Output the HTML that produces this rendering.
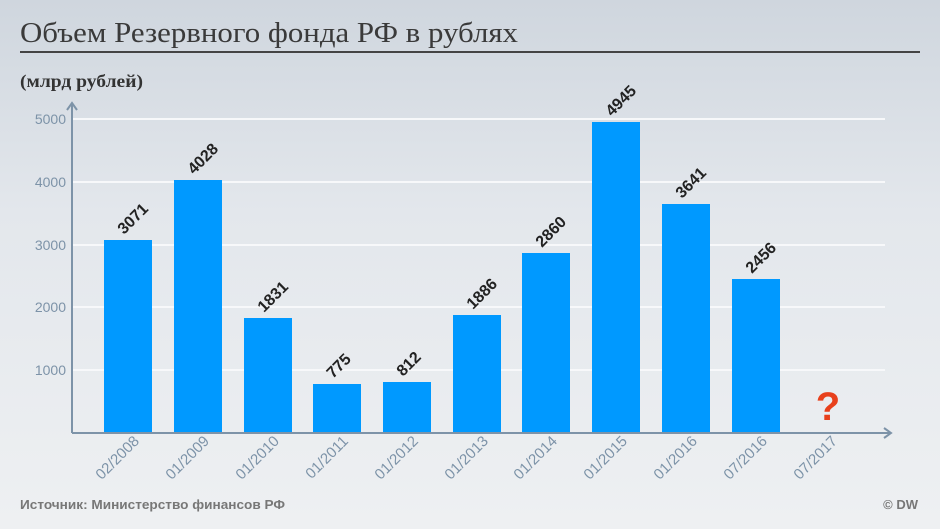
<!DOCTYPE html>
<html><head><meta charset="utf-8"><style>
html,body{margin:0;padding:0}
body{width:940px;height:529px;overflow:hidden;background:linear-gradient(180deg,#cfd6de 0%,#e3e7ec 40%,#eef0f2 100%);}
</style></head><body>
<svg width="940" height="529" xmlns="http://www.w3.org/2000/svg" style="position:absolute;left:0;top:0">
<text x="20" y="42" font-family="'Liberation Serif','DejaVu Serif',serif" font-size="29" fill="#3a3a3a" textLength="498" lengthAdjust="spacingAndGlyphs">Объем Резервного фонда РФ в рублях</text>
<rect x="20" y="51" width="900" height="2" fill="#444"/>
<text x="20" y="87" font-family="'Liberation Serif',serif" font-size="18" font-weight="bold" fill="#333" textLength="123" lengthAdjust="spacingAndGlyphs">(млрд рублей)</text>
<g stroke="#f7f8fa" stroke-width="2">
<line x1="71" y1="119" x2="885" y2="119"/><line x1="71" y1="182" x2="885" y2="182"/><line x1="71" y1="245" x2="885" y2="245"/><line x1="71" y1="307" x2="885" y2="307"/><line x1="71" y1="370" x2="885" y2="370"/>
</g>
<g font-family="'Liberation Sans',sans-serif" font-size="14" fill="#7d93a8" text-anchor="end">
<text x="66" y="124">5000</text><text x="66" y="187">4000</text><text x="66" y="250">3000</text><text x="66" y="312">2000</text><text x="66" y="375">1000</text>
</g>
<g fill="#0099ff">
<rect x="104" y="240" width="48" height="193"/>
<rect x="174" y="180" width="48" height="253"/>
<rect x="244" y="318" width="48" height="115"/>
<rect x="313" y="384" width="48" height="49"/>
<rect x="383" y="382" width="48" height="51"/>
<rect x="453" y="315" width="48" height="118"/>
<rect x="522" y="253" width="48" height="180"/>
<rect x="592" y="122" width="48" height="311"/>
<rect x="662" y="204" width="48" height="229"/>
<rect x="732" y="279" width="48" height="154"/>
</g>
<g stroke="#7d93a8" stroke-width="2" fill="none">
<line x1="72" y1="104" x2="72" y2="433"/><polyline points="67,110 72,103 77,110"/>
<line x1="72" y1="433" x2="890" y2="433"/><polyline points="884,428 891,433 884,438"/>
</g>
<g font-family="'Liberation Sans',sans-serif" font-size="16" font-weight="bold" fill="#222">
<text transform="translate(124,235) rotate(-45)">3071</text>
<text transform="translate(194,175) rotate(-45)">4028</text>
<text transform="translate(264,313) rotate(-45)">1831</text>
<text transform="translate(333,379) rotate(-45)">775</text>
<text transform="translate(403,377) rotate(-45)">812</text>
<text transform="translate(473,310) rotate(-45)">1886</text>
<text transform="translate(542,248) rotate(-45)">2860</text>
<text transform="translate(612,117) rotate(-45)">4945</text>
<text transform="translate(682,199) rotate(-45)">3641</text>
<text transform="translate(752,274) rotate(-45)">2456</text>
</g>
<text x="828" y="420" font-family="'Liberation Sans',sans-serif" font-size="40" font-weight="bold" fill="#e8401c" text-anchor="middle">?</text>
<g font-family="'Liberation Sans',sans-serif" font-size="15" fill="#7d93a8" text-anchor="end">
<text transform="translate(140,442) rotate(-45)">02/2008</text>
<text transform="translate(210,442) rotate(-45)">01/2009</text>
<text transform="translate(280,442) rotate(-45)">01/2010</text>
<text transform="translate(349,442) rotate(-45)">01/2011</text>
<text transform="translate(419,442) rotate(-45)">01/2012</text>
<text transform="translate(489,442) rotate(-45)">01/2013</text>
<text transform="translate(558,442) rotate(-45)">01/2014</text>
<text transform="translate(628,442) rotate(-45)">01/2015</text>
<text transform="translate(698,442) rotate(-45)">01/2016</text>
<text transform="translate(768,442) rotate(-45)">07/2016</text>
<text transform="translate(838,442) rotate(-45)">07/2017</text>
</g>
<text x="20" y="509" font-family="'Liberation Sans',sans-serif" font-size="13" font-weight="bold" fill="#777" textLength="265" lengthAdjust="spacingAndGlyphs">Источник: Министерство финансов РФ</text>
<text x="918" y="509" font-family="'Liberation Sans',sans-serif" font-size="13" font-weight="bold" fill="#777" text-anchor="end">© DW</text>
</svg>
</body></html>
